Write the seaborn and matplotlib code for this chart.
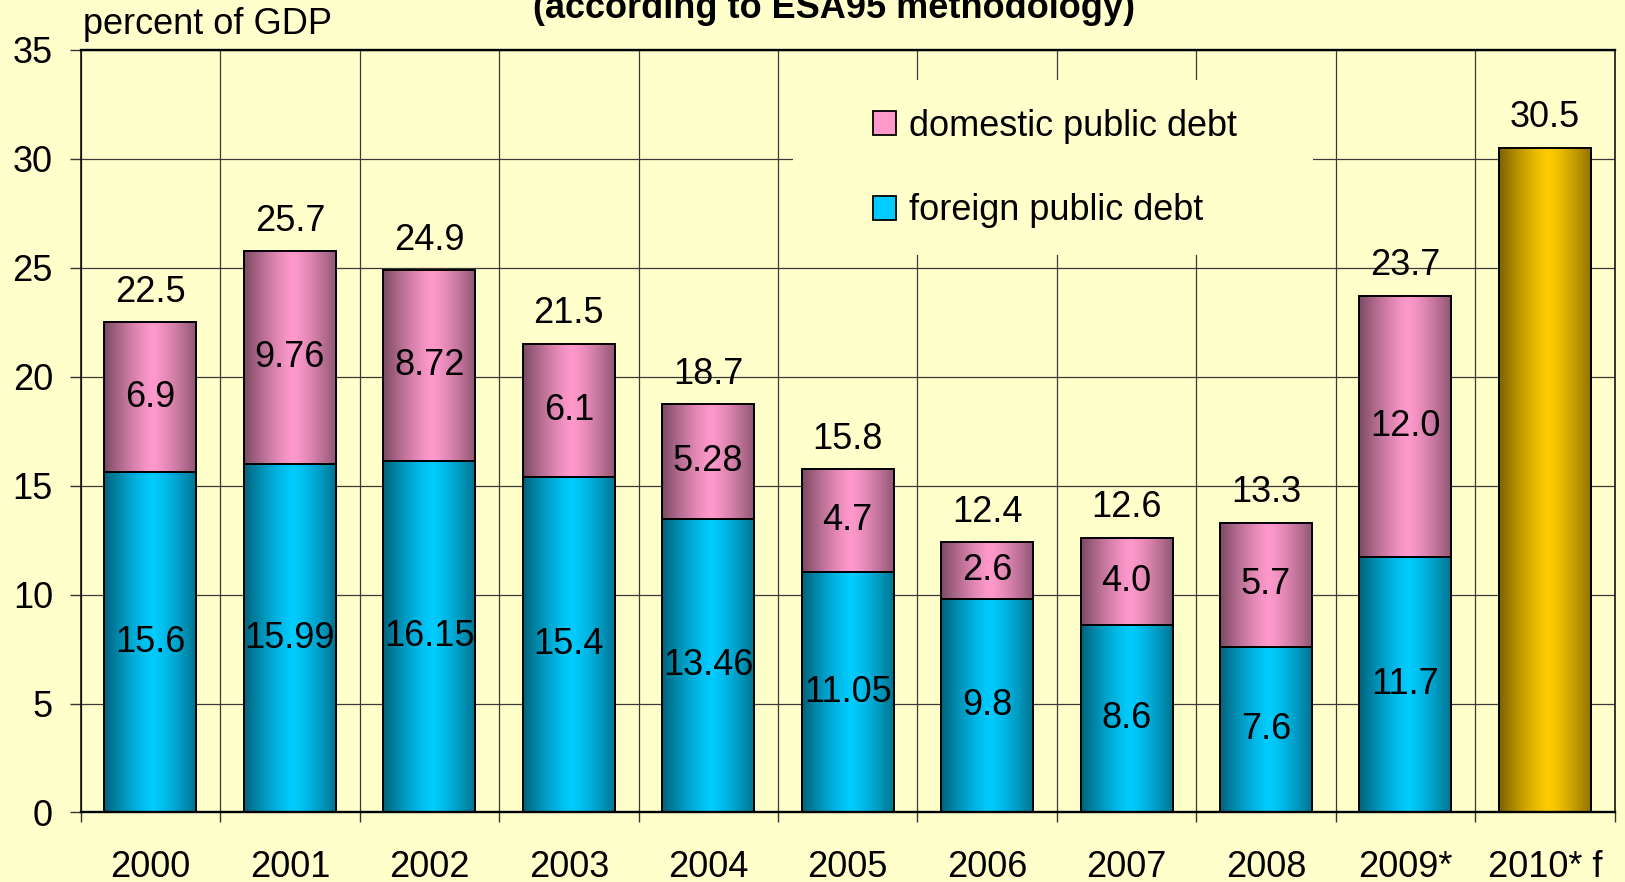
import numpy as np
import pandas as pd
import seaborn as sns
import matplotlib.pyplot as plt
from matplotlib.patches import Rectangle, Patch
from matplotlib.ticker import FixedLocator

# data (percent of GDP)
years = ["2000", "2001", "2002", "2003", "2004", "2005", "2006", "2007", "2008", "2009*", "2010* f"]
foreign_txt = ["15.6", "15.99", "16.15", "15.4", "13.46", "11.05", "9.8", "8.6", "7.6", "11.7"]
domestic_txt = ["6.9", "9.76", "8.72", "6.1", "5.28", "4.7", "2.6", "4.0", "5.7", "12.0"]
total_txt = ["22.5", "25.7", "24.9", "21.5", "18.7", "15.8", "12.4", "12.6", "13.3", "23.7"]
forecast_year = ["2010* f"]
forecast_txt = ["30.5"]

foreign = [float(v) for v in foreign_txt]
domestic = [float(v) for v in domestic_txt]
forecast = [float(v) for v in forecast_txt]

bg = "#FFFFCC"
pink = "#FF99CC"
cyan = "#00CCFF"
gold = "#FFCC00"
fs = 26

sns.set_style("white", {"axes.facecolor": bg, "figure.facecolor": bg})
plt.rcParams["font.family"] = ["Liberation Sans", "DejaVu Sans"]
plt.rcParams["font.size"] = fs
plt.rcParams["text.color"] = "black"
plt.rcParams["xtick.color"] = "black"
plt.rcParams["ytick.color"] = "black"

df_f = pd.DataFrame({"year": years[:10], "value": foreign})
df_d = pd.DataFrame({"year": years[:10], "value": domestic})
df_g = pd.DataFrame({"year": forecast_year, "value": forecast})

fig = plt.figure(figsize=(16.25, 8.82), dpi=100)
ax = fig.add_axes([0.0497, 0.0788, 0.9439, 0.8649])

bar_kw = dict(order=years, width=0.66, edgecolor="black", linewidth=1.4, ax=ax)
sns.barplot(data=df_f, x="year", y="value", color=cyan, **bar_kw)
bars_f = ax.containers[-1]
sns.barplot(data=df_d, x="year", y="value", color=pink, bottom=np.array(foreign), **bar_kw)
bars_d = ax.containers[-1]
sns.barplot(data=df_g, x="year", y="value", color=gold, **bar_kw)
bars_g = ax.containers[-1]


def ramp(hex_color):
    rgb = np.array(plt.matplotlib.colors.to_rgb(hex_color))
    t = np.linspace(0, 1, 256)
    b = 1 - 0.52 * (np.abs(t - 0.53) / 0.53) ** 1.3
    return (b[:, None] * rgb[None, :])[None, :, :].clip(0, 1)


# cylinder-ish shading like the office chart
for bars, c in [(bars_f, cyan), (bars_d, pink), (bars_g, gold)]:
    img = ramp(c)
    for p in bars:
        x0, y0, w, h = p.get_x(), p.get_y(), p.get_width(), p.get_height()
        ax.imshow(img, extent=(x0, x0 + w, y0, y0 + h), aspect="auto",
                  origin="lower", interpolation="bilinear", zorder=0.9)
        p.set_facecolor("none")

ax.bar_label(bars_f, labels=foreign_txt, label_type="center", fontsize=fs)
ax.bar_label(bars_d, labels=domestic_txt, label_type="center", fontsize=fs)
ax.bar_label(bars_d, labels=total_txt, label_type="edge", padding=9, fontsize=fs)
ax.bar_label(bars_g, labels=forecast_txt, label_type="edge", padding=9, fontsize=fs)

ax.set_xlim(-0.5, len(years) - 0.5)
ax.set_ylim(0, 35)
ax.set_yticks(range(0, 36, 5))
ax.set_xlabel("")
ax.set_ylabel("")

ax.xaxis.set_minor_locator(FixedLocator(np.arange(-0.5, len(years), 1)))
ax.tick_params(axis="x", which="major", length=0, pad=27, labelsize=fs)
ax.tick_params(axis="x", which="minor", length=7.5, width=1, color="#333333", direction="out")
ax.tick_params(axis="y", length=8, width=1, color="#333333", pad=12, labelsize=fs, direction="out")
ax.tick_params(bottom=True, left=True, which="both")

ax.set_axisbelow(True)
ax.grid(axis="y", which="major", color="#3a3a3a", lw=0.9)
ax.grid(axis="x", which="minor", color="#3a3a3a", lw=0.9)
ax.grid(axis="x", which="major", visible=False)

for side in ["top", "bottom"]:
    ax.spines[side].set_linewidth(1.7)
for side in ["left", "right"]:
    ax.spines[side].set_linewidth(1.1)
for s in ax.spines.values():
    s.set_color("black")
    s.set_visible(True)

# legend sits on a plain patch that hides the grid
ax.add_patch(Rectangle((0.488, 0.7109), 0.32, 0.1984, transform=fig.transFigure,
                       facecolor=bg, edgecolor="none", zorder=0.8))
handles = [Patch(facecolor=pink, edgecolor="black", lw=1.3),
           Patch(facecolor=cyan, edgecolor="black", lw=1.3)]
ax.legend(handles, ["domestic public debt", "foreign public debt"],
          loc="upper left", bbox_to_anchor=(873 / 1625, 1 - 109 / 882),
          bbox_transform=fig.transFigure, frameon=False, borderpad=0,
          borderaxespad=0, handlelength=0.65, handleheight=0.65,
          handletextpad=0.35, labelspacing=1.37, fontsize=fs)

fig.text(834 / 1625, 1 - 18 / 882, "(according to ESA95 methodology)",
         ha="center", va="baseline", fontsize=fs, fontweight="bold")
fig.text(83 / 1625, 1 - 34 / 882, "percent of GDP", ha="left", va="baseline", fontsize=fs)

fig.savefig("out.png", dpi=100, facecolor=bg)
